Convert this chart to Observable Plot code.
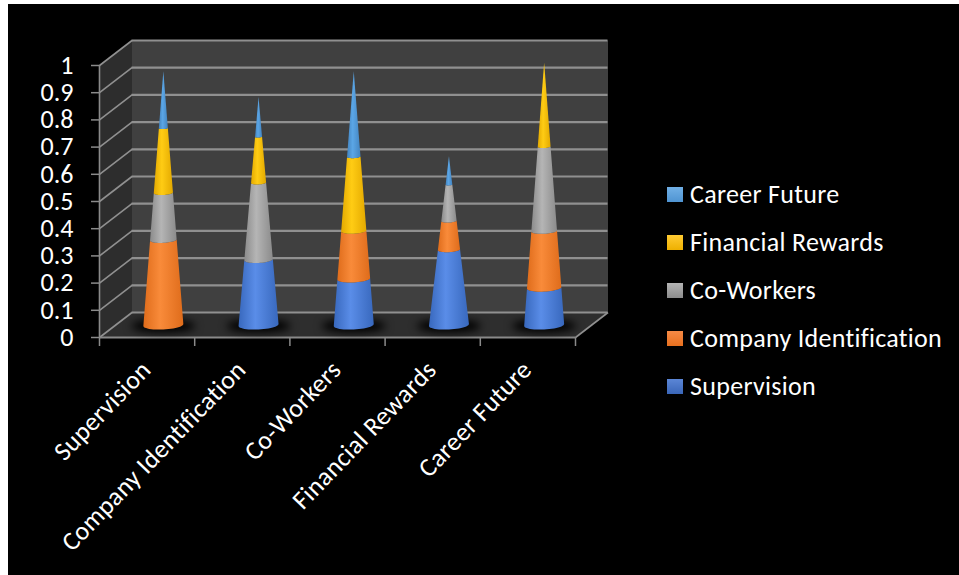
<!DOCTYPE html>
<html>
<head>
<meta charset="utf-8">
<script src="https://cdn.jsdelivr.net/npm/d3@7"></script>
<script src="https://cdn.jsdelivr.net/npm/@observablehq/plot@0.6"></script>
<style>
  html, body { margin: 0; padding: 0; background: #fff; width: 959px; height: 575px; overflow: hidden; }
  #panel { position: absolute; left: 8px; top: 4px; width: 951px; height: 571px; background: #000; }
  #chart { position: absolute; left: 0; top: 0; }
  #chart g[aria-label="text"] text { letter-spacing: 0.3px; font-variant-ligatures: none; }
  #legend { position: absolute; left: 667px; top: 170px; font-family: Carlito, Calibri, Lato, sans-serif; color: #fff; }
  #legend .row { display: flex; align-items: center; height: 48px; font-size: 26px; letter-spacing: 0.3px; font-variant-ligatures: none; white-space: nowrap; }
  #legend .swatch { width: 16px; height: 15px; margin-right: 7px; flex: none; }
</style>
</head>
<body>
<div id="panel"></div>
<div id="chart"></div>
<div id="legend"></div>
<script>
const categories = ["Supervision", "Company Identification", "Co-Workers", "Financial Rewards", "Career Future"];
const seriesNames = ["Supervision", "Company Identification", "Co-Workers", "Financial Rewards", "Career Future"];
const supervision = [0, 0.24, 0.17, 0.277, 0.137];
const companyIdentification = [0.313, 0, 0.176, 0.106, 0.209];
const coWorkers = [0.173, 0.283, 0, 0.133, 0.31];
const financialRewards = [0.238, 0.169, 0.273, 0, 0.309];
const careerFuture = [0.209, 0.146, 0.314, 0.104, 0];
const seriesValues = [supervision, companyIdentification, coWorkers, financialRewards, careerFuture];
const yTicks = [0, 0.1, 0.2, 0.3, 0.4, 0.5, 0.6, 0.7, 0.8, 0.9, 1];

// Colours per series: swatch top, swatch bottom, cone centre, cone edge
const palette = [
  {top: "#5b86d6", bottom: "#3a66b8", centre: "#5a8de8", edge: "#3868bd"},
  {top: "#f68a45", bottom: "#e8701f", centre: "#f98b3a", edge: "#df6c1b"},
  {top: "#b4b4b4", bottom: "#8c8c8c", centre: "#b5b5b5", edge: "#8b8b8b"},
  {top: "#ffcb33", bottom: "#eeb000", centre: "#ffcc14", edge: "#e3a900"},
  {top: "#71b0e6", bottom: "#4f94d2", centre: "#5ba6e6", edge: "#4384c0"}
];

// Pseudo-3D box: depth expressed in scale units so walls follow the axes
const xMax = categories.length;
const pxPerX = (575 - 99) / xMax;
const pxPerY = 337 - 65;
const depthX = 32.5 / pxPerX, depthY = 25 / pxPerY;
const coneRadius = 20 / pxPerX;
const rimRatio = 4.5 / 20;
const rimTilt = (0.05 * pxPerX) / pxPerY;

const poly = (corners) => corners.map(([x, y]) => ({x, y}));
const floor = poly([[0, 0], [xMax, 0], [xMax + depthX, depthY], [depthX, depthY]]);
const sideWall = poly([[0, 0], [depthX, depthY], [depthX, 1 + depthY], [0, 1]]);
const backWall = poly([[depthX, depthY], [xMax + depthX, depthY], [xMax + depthX, 1 + depthY], [depthX, 1 + depthY]]);
const wallFill = (data, fill) => Plot.line(data, {x: "x", y: "y", fill, stroke: null, curve: "linear-closed"});

// A stacked cone: each segment is a slice between two heights, with curved, slightly tilted front rims
const rimY = (r) => (r * pxPerX * rimRatio) / pxPerY;
function coneSegments(seriesIndex) {
  const rows = [];
  categories.forEach((_, c) => {
    const total = d3.sum(seriesValues, (s) => s[c]);
    const from = d3.sum(seriesValues.slice(0, seriesIndex), (s) => s[c]);
    const value = seriesValues[seriesIndex][c];
    if (value <= 0) return;
    const to = from + value;
    const cx = c + 0.5 + depthX / 2, base = depthY / 2;
    const r0 = coneRadius * (1 - from / total), r1 = coneRadius * (1 - to / total);
    const angles = d3.range(0, 25).map((k) => (Math.PI * k) / 24);
    const id = `${seriesIndex}-${c}`;
    for (const a of angles) rows.push({id, x: cx - r0 * Math.cos(a), y: base + from - rimY(r0) * Math.sin(a) - rimTilt * r0 * Math.cos(a)});
    for (const a of angles) rows.push({id, x: cx + r1 * Math.cos(a), y: base + to - rimY(r1) * Math.sin(a) + rimTilt * r1 * Math.cos(a)});
  });
  return rows;
}

// Soft dark patch on the floor under each cone
const shadowRows = categories.flatMap((_, c) =>
  d3.range(0, 40).map((k) => {
    const a = (2 * Math.PI * k) / 40;
    return {
      id: c,
      x: c + 0.5 + depthX / 2 + (coneRadius * 1.6) * Math.cos(a),
      y: depthY / 2 - 1 / pxPerY + ((coneRadius * pxPerX * 0.33) / pxPerY) * Math.sin(a)
    };
  })
);
const blurred = (amount) => (index, scales, values, dims, context, next) => {
  const g = next(index, scales, values, dims, context);
  g.style.filter = `blur(${amount}px)`;
  return g;
};

const gridStroke = "#909090";
const axisStroke = "#8a8a8a";

const chart = Plot.plot({
  width: 959,
  height: 575,
  marginLeft: 99,
  marginRight: 384,
  marginTop: 65,
  marginBottom: 238,
  style: {background: "transparent", fontFamily: "Carlito, Calibri, Lato, sans-serif"},
  x: {domain: [0, xMax], axis: null},
  y: {domain: [0, 1], axis: null},
  marks: [
    () => {
      const defs = d3.create("svg:defs");
      palette.forEach((p, i) => {
        const g = defs.append("linearGradient").attr("id", `cone${i}`);
        g.append("stop").attr("offset", "0%").attr("stop-color", p.edge);
        g.append("stop").attr("offset", "42%").attr("stop-color", p.centre);
        g.append("stop").attr("offset", "100%").attr("stop-color", p.edge);
      });
      return defs.node();
    },
    wallFill(backWall, "#404040"),
    wallFill(sideWall, "#2d2d2d"),
    wallFill(floor, "#2e2e2e"),
    // Gridlines along the back wall and across the side wall
    Plot.ruleY(yTicks, {y: (d) => d + depthY, x1: depthX, x2: xMax + depthX, stroke: gridStroke, strokeWidth: 2.2}),
    Plot.link(yTicks, {x1: 0, x2: depthX, y1: (d) => d, y2: (d) => d + depthY, stroke: gridStroke, strokeWidth: 1.6}),
    Plot.link([0], {x1: xMax, x2: xMax + depthX, y1: 0, y2: depthY, stroke: gridStroke, strokeWidth: 1.6}),
    Plot.ruleX([0], {y1: 0, y2: 1, stroke: axisStroke, strokeWidth: 1.6}),
    Plot.ruleY([0], {x1: 0, x2: xMax, stroke: axisStroke, strokeWidth: 2}),
    Plot.axisY({ticks: yTicks, tickFormat: (d) => String(d), tickSize: 8, tickPadding: 18, stroke: axisStroke, fill: "#fff", fontSize: 26, label: null, strokeWidth: 1.5}),
    Plot.axisX({ticks: d3.range(0, xMax + 1), tickFormat: () => "", tickSize: 9, stroke: axisStroke, label: null, strokeWidth: 1.5}),
    Plot.line(shadowRows, {x: "x", y: "y", z: "id", fill: "#000", stroke: null, curve: "linear-closed", render: blurred(4)}),
    ...seriesNames.map((_, i) =>
      Plot.line(coneSegments(i), {x: "x", y: "y", z: "id", fill: `url(#cone${i})`, stroke: null, curve: "linear-closed"})
    ),
    // Slanted category labels, right end below each slot
    Plot.text(categories, {
      x: (_, i) => i + 0.5,
      y: 0,
      text: (d) => d,
      rotate: -46,
      textAnchor: "end",
      fill: "#fff",
      fontSize: 26,
      dx: -1,
      dy: 28
    })
  ]
});
document.getElementById("chart").append(chart);

// Legend, last series on top
const legend = d3.select("#legend");
seriesNames.map((name, i) => ({name, p: palette[i]})).reverse().forEach(({name, p}) => {
  const row = legend.append("div").attr("class", "row");
  row.append("div").attr("class", "swatch").style("background", `linear-gradient(${p.top}, ${p.bottom})`);
  row.append("div").text(name);
});
</script>
</body>
</html>
